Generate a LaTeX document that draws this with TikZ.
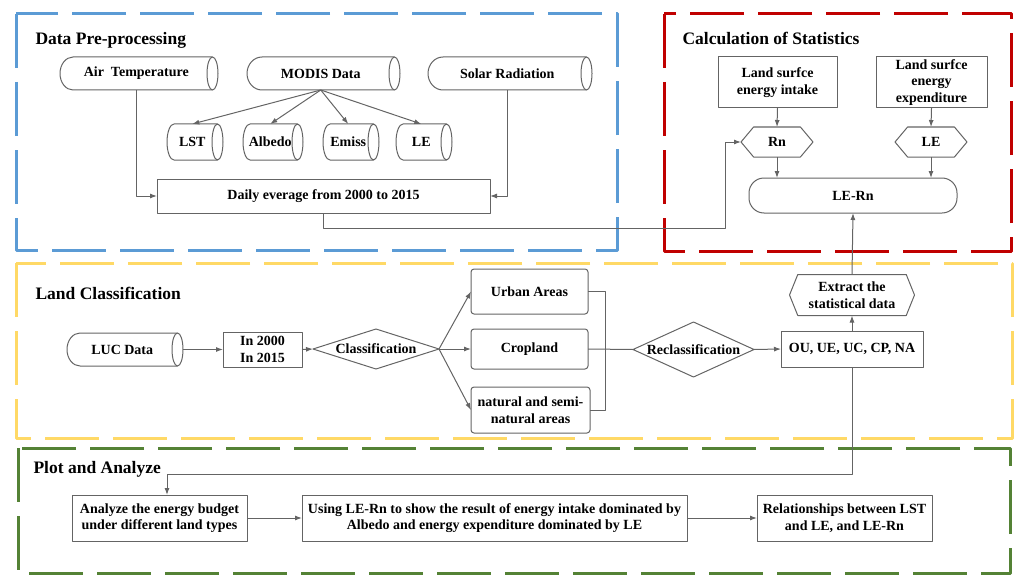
\documentclass[tikz,border=0pt]{standalone}
\usepackage{fontspec}
\setmainfont{Liberation Serif}
\usetikzlibrary{arrows.meta,calc,positioning,shapes.geometric,shapes.symbols}
\definecolor{frameBlue}{RGB}{91,155,213}
\definecolor{frameRed}{RGB}{192,0,0}
\definecolor{frameYellow}{RGB}{255,217,102}
\definecolor{frameGreen}{RGB}{84,130,53}
\definecolor{lineGray}{RGB}{100,100,100}

\begin{document}
\begin{tikzpicture}[
    x=1pt,y=-1pt,
    line join=round,
    every node/.style={font=\bfseries\fontsize{14}{16.5}\selectfont},
    boxline/.style={draw=lineGray,line width=1pt},
    box/.style={boxline,rectangle,align=center,inner sep=0pt,outer sep=0pt},
    roundbox/.style={box,rounded corners=3pt},
    pill/.style={box,rounded corners=15pt},
    storetext/.style={rectangle,inner sep=0pt,outer sep=0pt},
    hexa/.style={
        boxline,
        signal,
        signal to=east and west,
        signal from=nowhere,
        align=center,
        inner sep=0pt,
        outer sep=0pt
    },
    decide/.style={boxline,diamond,inner sep=0pt,outer sep=0pt},
    arr/.style={draw=lineGray,line width=1pt,-{Latex[length=7pt,width=5pt]}},
    link/.style={draw=lineGray,line width=1pt},
    frame/.style={line width=3pt,dash pattern=on 54pt off 14pt},
    title/.style={anchor=west,font=\bfseries\fontsize{17.5}{20}\selectfont}
]

\useasboundingbox (0,0) rectangle (1019,575);

% ============================================================
% data store: rounded left end, open ellipse at the right end
% ============================================================

\newcommand{\StoreNode}[6]{%
    \node[storetext,minimum width=#3,minimum height=#4] (#1) at (#2) {#6};
    \draw[boxline]
        ($(#1.south west)+(#5,0)$)
        arc[start angle=90,end angle=270,x radius=#5,y radius=#4/2]
        -- (#1.north east)
        (#1.south east) -- ($(#1.south west)+(#5,0)$);
    \draw[boxline] (#1.east) ellipse[x radius=5.5,y radius=#4/2];
}

% ============================================================
% frames
% ============================================================

\draw[frame,frameBlue]   (16,14)  rectangle (617,250);
\draw[frame,frameRed]    (664,14) rectangle (1011,251);
\draw[frame,frameYellow] (16,263) rectangle (1012,438);
\draw[frame,frameGreen]  (18,448) rectangle (1010,573);

\node[title] (preTitle)  at (32,40)  {Data Pre-processing};
\node[title] (statTitle) at (679,38) {Calculation of Statistics};
\node[title] (landTitle) at (32,293) {Land Classification};
\node[title] (plotTitle) at (30,469) {Plot and Analyze};

% ============================================================
% Data Pre-processing
% ============================================================

\StoreNode{airT}{136.25,73.5}{152.5}{33}{13}{Air\ \ Temperature}
\StoreNode{modis}{320.75,73.5}{147.5}{33}{15}{MODIS Data}
\StoreNode{solar}{507.25,73.5}{158.5}{33}{15}{Solar Radiation}

\StoreNode{lst}{192.25,142}{50.5}{36}{7}{LST}
\StoreNode{albedo}{270.25,142}{54.5}{36}{7}{Albedo}
\StoreNode{emiss}{348.25,142}{50.5}{36}{7}{Emiss}
\StoreNode{leData}{421.25,142}{50.5}{36}{7}{LE}

\node[box,minimum width=333,minimum height=34] (daily) at (323.5,196)
    {Daily everage from 2000 to 2015};

\draw[arr] (modis.south) -- (lst.north);
\draw[arr] (modis.south) -- (albedo.north);
\draw[arr] (modis.south) -- (emiss.north);
\draw[arr] (modis.south) -- (leData.north);

\draw[arr] (airT.south) |- (daily.west);
\draw[arr] (solar.south) |- (daily.east);

% ============================================================
% Calculation of Statistics
% ============================================================

\node[box,minimum width=119,minimum height=51] (intake) at (777.5,82.5)
    {Land surfce\\energy intake};
\node[box,minimum width=111,minimum height=51] (expend) at (931.5,82.5)
    {Land surfce\\energy\\expenditure};

\node[hexa,minimum width=72,minimum height=30,signal pointer angle=100]
    (rn) at (777,142) {Rn};
\node[hexa,minimum width=72,minimum height=30,signal pointer angle=100]
    (leStat) at (931,142) {LE};

\node[pill,minimum width=208,minimum height=35] (leRn) at (853,195.5) {LE-Rn};

\draw[arr] (intake.south) -- (rn.north);
\draw[arr] (expend.south) -- (leStat.north);
\draw[arr] (rn.south) -- (rn.south |- leRn.north);
\draw[arr] (leStat.south) -- (leStat.south |- leRn.north);

\draw[arr] (daily.south) -- ++(0,15) -| ([xshift=-16]rn.west) -- (rn.west);

% ============================================================
% Land Classification
% ============================================================

\StoreNode{luc}{122.25,349.5}{110.5}{33}{13}{LUC Data}

\node[box,minimum width=79,minimum height=35] (years) at (262.5,349.5)
    {In 2000\\In 2015};
\node[decide,aspect=3.15,minimum width=126,minimum height=40]
    (classif) at (376,349) {Classification};

\node[roundbox,minimum width=117,minimum height=45] (urban) at (529.5,291.5)
    {Urban Areas};
\node[roundbox,minimum width=117,minimum height=40] (crop) at (529.5,349)
    {Cropland};
\node[roundbox,minimum width=119,minimum height=46] (natural) at (530.5,410)
    {natural and semi-\\natural areas};

\node[decide,aspect=2.2,minimum width=121,minimum height=55]
    (reclass) at (693.5,349.5) {Reclassification};

\node[box,minimum width=142,minimum height=36] (types) at (852,349)
    {OU, UE, UC, CP, NA};
\node[hexa,minimum width=125,minimum height=41,signal pointer angle=136]
    (extract) at (852,295) {Extract the\\statistical data};

\draw[arr] ([xshift=5.5]luc.east) -- (years.west);
\draw[arr] (years.east) -- (classif.west);
\draw[arr] (classif.east) -- (urban.west);
\draw[arr] (classif.east) -- (crop.west);
\draw[arr] (classif.east) -- (natural.west);

\draw[link] (urban.east) -- ++(17,0) |- (natural.east);
\draw[link] (crop.east) -- (reclass.west);
\draw[arr] (reclass.east) -- (types.west);

\draw[arr] (types.north) -- (extract.south);
\draw[arr] (extract.north) -- (leRn.south);

% ============================================================
% Plot and Analyze
% ============================================================

\node[box,minimum width=175,minimum height=46] (analyze) at (159.5,518)
    {Analyze the energy budget\\under different land types};
\node[box,minimum width=385,minimum height=46] (using) at (494.5,518)
    {Using LE-Rn to show the result of energy intake dominated by\\
     Albedo and energy expenditure dominated by LE};
\node[box,minimum width=175,minimum height=46] (relation) at (844.5,518)
    {Relationships between LST\\and LE, and LE-Rn};

\draw[arr] (types.south) -- ++(0,107) -| ([xshift=7.5]analyze.north);
\draw[arr] (analyze.east) -- (using.west);
\draw[arr] (using.east) -- (relation.west);

\end{tikzpicture}
\end{document}
